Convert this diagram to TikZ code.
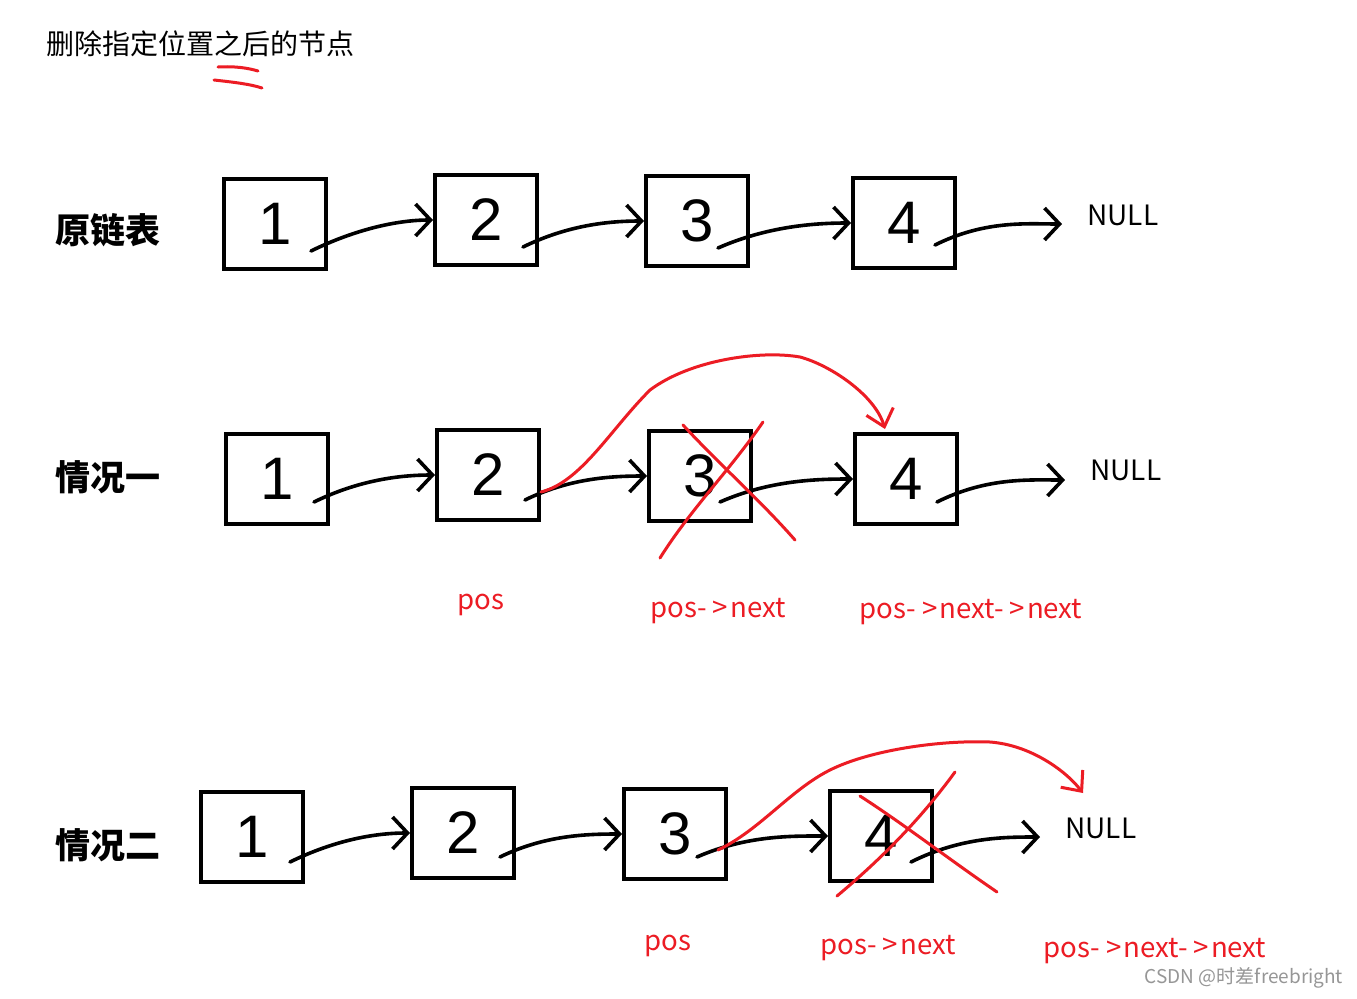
\documentclass[tikz,border=0pt]{standalone}
\usepackage{fontspec}
\setmainfont{Noto Sans CJK SC}
\newfontfamily\digitfont{Liberation Sans}
\usetikzlibrary{arrows.meta,calc}
\definecolor{pen}{RGB}{236,28,36}
\definecolor{wm}{RGB}{150,150,150}
\newcommand{\ptr}{-\kern3pt>\kern1pt}
\begin{document}
\begin{tikzpicture}[x=0.5pt,y=-0.5pt,
  box/.style={draw, line width=2pt, minimum width=51pt, minimum height=45pt, inner sep=0pt,
    font=\digitfont\fontsize{30}{30}\selectfont},
  blk/.style={line width=1.8pt, line cap=round, line join=round,
    -{Straight Barb[length=7.5pt,width=16pt,line width=1.8pt]}},
  redarr/.style={pen, line width=1.5pt, line cap=round,
    -{Straight Barb[length=8pt,width=14pt,line width=1.5pt]}},
  redline/.style={pen, line width=1.5pt, line cap=round},
  lab/.style={font=\fontsize{17.5}{20}\selectfont\bfseries, anchor=west, inner sep=0pt},
  rlab/.style={text=pen, font=\fontsize{13.8}{16}\selectfont, inner sep=0pt},
  nul/.style={font=\fontsize{14}{17}\selectfont, anchor=west, inner sep=0pt}]
\useasboundingbox[fill=white] (0,0) rectangle (1357,998);

% title
\node[anchor=west, inner sep=0pt, font=\fontsize{14}{16}\selectfont] (title) at (46,44) {删除指定位置之后的节点};
\draw[redline] (218,67) .. controls (235,66) and (248,68) .. (258,71);
\draw[redline] (214,80) .. controls (232,82) and (250,84) .. (262,88);

% row labels
\node[lab] (l1) at (55,230) {原链表};
\node[lab] (l2) at (55,477) {情况一};
\node[lab] (l3) at (55,845) {情况二};

% row 1
\node[box] (a1) at (275,224) {1};
\node[box] (a2) at (486,220) {2};
\node[box] (a3) at (697,221) {3};
\node[box] (a4) at (904,223) {4};
\node[nul] (n1) at (1087,215) {NULL};
\coordinate (e1) at ($(n1.west)+(-25,9)$);
\draw[blk] ($(a1.south east)+(-17,-20)$) .. controls +(45,-22) and +(-35,0) .. (a2.west);
\draw[blk] ($(a2.south east)+(-16,-20)$) .. controls +(45,-22) and +(-35,0) .. (a3.west);
\draw[blk] ($(a3.south east)+(-32,-20)$) .. controls +(50,-22) and +(-35,0) .. (a4.west);
\draw[blk] ($(a4.south east)+(-22,-25)$) .. controls +(50,-25) and +(-35,0) .. (e1);

% row 2
\node[box] (c1) at (277,479) {1};
\node[box] (c2) at (488,475) {2};
\node[box] (c3) at (700,476) {3};
\node[box] (c4) at (906,479) {4};
\node[nul] (n2) at (1090,470) {NULL};
\coordinate (e2) at ($(n2.west)+(-25,10)$);
\draw[blk] ($(c1.south east)+(-16,-24)$) .. controls +(45,-22) and +(-35,0) .. (c2.west);
\draw[blk] ($(c2.south east)+(-16,-22)$) .. controls +(45,-22) and +(-35,0) .. (c3.west);
\draw[blk] ($(c3.south east)+(-33,-21)$) .. controls +(50,-22) and +(-35,0) .. (c4.west);
\draw[blk] ($(c4.south east)+(-22,-24)$) .. controls +(50,-25) and +(-35,0) .. (e2);

\draw[redarr] ($(c2.east)+(0,17)$) .. controls +(40,-10) and (610,430) .. (650,390)
  .. controls (690,360) and (760,350) .. (800,357)
  .. controls (830,365) and (875,395) .. ($(c4.north)+(-21,-3)$);
\draw[redline] (683,425) .. controls (720,465) and (760,500) .. (795,540);
\draw[redline] (763,422) .. controls (730,470) and (690,510) .. (660,558);
\node[rlab] (p2a) at (481,605) {pos};
\node[rlab] (p2b) at (718,611) {pos\ptr next};
\node[rlab] (p2c) at (971,612) {pos\ptr next\ptr next};

% row 3
\node[box] (d1) at (252,837) {1};
\node[box] (d2) at (463,833) {2};
\node[box] (d3) at (675,834) {3};
\node[box] (d4) at (881,836) {4};
\node[nul] (n3) at (1065,828) {NULL};
\coordinate (e3) at ($(n3.west)+(-25,9)$);
\coordinate (r3) at ($(n3.west)+(18,-35)$);
\draw[blk] ($(d1.south east)+(-15,-22)$) .. controls +(45,-22) and +(-35,0) .. (d2.west);
\draw[blk] ($(d2.south east)+(-16,-23)$) .. controls +(45,-22) and +(-35,0) .. (d3.west);
\draw[blk] ($(d3.south east)+(-31,-24)$) .. controls +(50,-22) and +(-35,0) .. (d4.west);
\draw[blk] ($(d4.south east)+(-23,-21)$) .. controls +(50,-25) and +(-35,0) .. (e3);

\draw[redarr] ($(d3.east)+(-10,16)$) .. controls (760,830) and (790,790) .. (830,770)
  .. controls (870,750) and (940,740) .. (990,742)
  .. controls (1030,745) and (1065,770) .. (r3);
\draw[redline] (860,796) .. controls (905,825) and (950,860) .. (997,892);
\draw[redline] (955,772) .. controls (920,820) and (880,860) .. (837,896);
\node[rlab] (p3a) at (668,946) {pos};
\node[rlab] (p3b) at (888,948) {pos\ptr next};
\node[rlab] (p3c) at (1155,951) {pos\ptr next\ptr next};

% watermark
\node[text=wm, font=\fontsize{9.5}{11}\selectfont, inner sep=0pt] (wmk) at (1244,978) {CSDN @时差freebright};
\end{tikzpicture}
\end{document}
